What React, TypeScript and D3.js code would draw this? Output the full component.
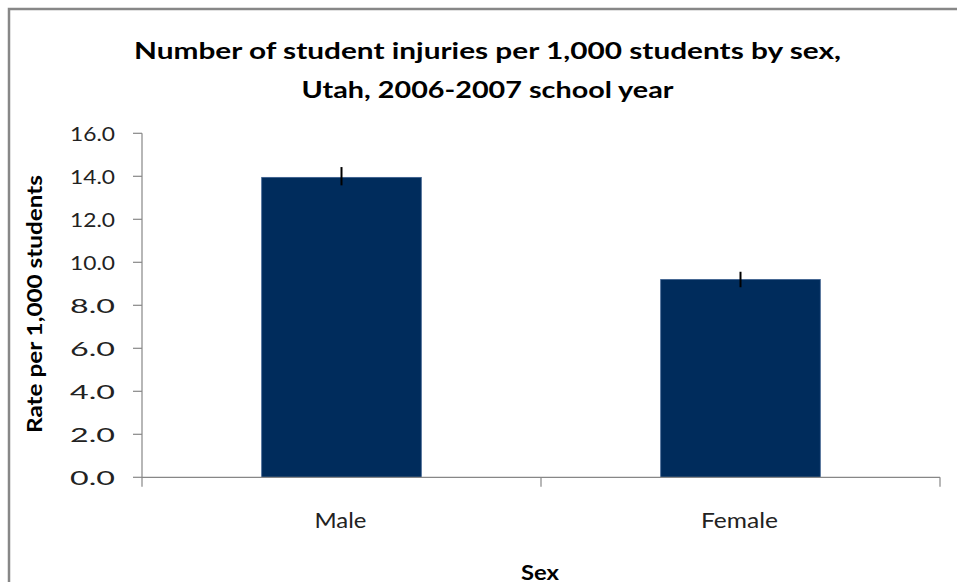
import React from "react";
import * as d3 from "d3";

const categories = ["Male", "Female"];
const rates = [13.95, 9.2];
const errLow = [13.58, 8.84];
const errHigh = [14.43, 9.56];
const yTicks = [0, 2, 4, 6, 8, 10, 12, 14, 16];
const titleLines = [
  "Number of student injuries per 1,000 students by sex,",
  "Utah, 2006-2007 school year",
];
const yAxisTitle = "Rate per 1,000 students";
const xAxisTitle = "Sex";

const FONT = "Lato, 'Open Sans', 'DejaVu Sans', sans-serif";

export default function App() {
  const W = 957;
  const H = 582;
  const left = 142;
  const right = 940;
  const top = 133.3;
  const bottom = 477.3;

  const x = d3.scaleBand<string>().domain(categories).range([left, right]).paddingInner(0.6).paddingOuter(0.3);
  const y = d3.scaleLinear().domain([0, 16]).range([bottom, top]);
  const step = x.step();
  const bw = x.bandwidth();

  const axisColor = "#878787";
  const catEdges = [left, ...categories.map((c) => (x(c) as number) - step * 0.3 + step)];

  const catWidths: Record<string, number> = { Male: 52, Female: 77 };

  return (
    <svg
      width={W}
      height={H}
      style={{ position: "absolute", left: 0, top: 0, background: "#fff" }}
    >
      <rect x={0} y={0} width={W} height={H} fill="#fff" />
      <rect x={9} y={9} width={980} height={600} fill="none" stroke={axisColor} strokeWidth={2.5} />

      {titleLines.map((t, i) => (
        <text
          key={i}
          x={487.5}
          y={i === 0 ? 59.3 : 98.3}
          textAnchor="middle"
          fontFamily={FONT}
          fontWeight="bold"
          fontSize={22}
          fill="#000"
          textLength={i === 0 ? 707 : 372}
          lengthAdjust="spacingAndGlyphs"
        >
          {t}
        </text>
      ))}

      {/* bars */}
      {categories.map((c, i) => (
        <rect
          key={c}
          x={x(c)}
          y={y(rates[i])}
          width={bw}
          height={y(0) - y(rates[i])}
          fill="#002c5c"
          stroke="#3b5f8e"
          strokeWidth={0.8}
        />
      ))}

      {/* error bars */}
      {categories.map((c, i) => (
        <line
          key={c}
          x1={(x(c) as number) + bw / 2}
          x2={(x(c) as number) + bw / 2}
          y1={y(errHigh[i])}
          y2={y(errLow[i])}
          stroke="#000"
          strokeWidth={2}
        />
      ))}

      {/* y axis */}
      <line x1={left} x2={left} y1={top} y2={bottom} stroke={axisColor} strokeWidth={1.2} />
      {yTicks.map((t) => (
        <g key={t}>
          <line x1={133} x2={left} y1={y(t)} y2={y(t)} stroke={axisColor} strokeWidth={1.2} />
          <text
            x={115}
            y={y(t) + 7.2}
            textAnchor="end"
            fontFamily={FONT}
            fontSize={19.5}
            fill="#222"
            textLength={45}
            lengthAdjust="spacingAndGlyphs"
          >
            {t.toFixed(1)}
          </text>
        </g>
      ))}

      {/* x axis */}
      <line x1={left} x2={right} y1={bottom} y2={bottom} stroke={axisColor} strokeWidth={1.2} />
      {catEdges.map((e, i) => (
        <line key={i} x1={e} x2={e} y1={bottom} y2={486.7} stroke={axisColor} strokeWidth={1.2} />
      ))}
      {categories.map((c) => (
        <text
          key={c}
          x={(x(c) as number) + bw / 2 - 1}
          y={528.3}
          textAnchor="middle"
          fontFamily={FONT}
          fontSize={20.5}
          fill="#222"
          textLength={catWidths[c]}
          lengthAdjust="spacingAndGlyphs"
        >
          {c}
        </text>
      ))}

      <text
        x={540}
        y={579.5}
        textAnchor="middle"
        fontFamily={FONT}
        fontWeight="bold"
        fontSize={21}
        fill="#000"
        textLength={38}
        lengthAdjust="spacingAndGlyphs"
      >
        {xAxisTitle}
      </text>

      <text
        transform={`translate(42.3,${304}) rotate(-90)`}
        textAnchor="middle"
        fontFamily={FONT}
        fontWeight="bold"
        fontSize={21.5}
        fill="#000"
        textLength={258}
        lengthAdjust="spacingAndGlyphs"
      >
        {yAxisTitle}
      </text>
    </svg>
  );
}
